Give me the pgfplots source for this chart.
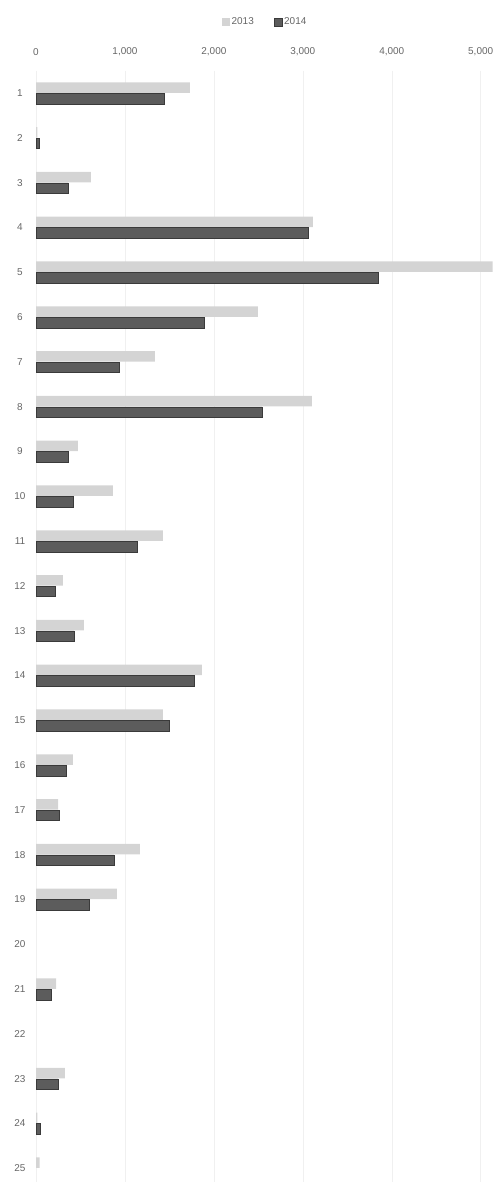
\documentclass[border=0pt]{standalone}
\usepackage{pgfplots}
\usepackage{pgfplotstable}
\pgfplotsset{compat=1.18}
\usepackage{fontspec}
\setmainfont{Liberation Sans}
\definecolor{lightbar}{HTML}{D4D4D4}
\definecolor{darkbar}{HTML}{5C5C5C}
\definecolor{darkedge}{HTML}{3A3A3A}
\pgfplotstableread{
cat a b
1 1730 1438
2 15 40
3 618 360
4 3112 3056
5 5135 3843
6 2494 1888
7 1337 933
8 3101 2539
9 472 360
10 865 416
11 1427 1135
12 303 213
13 539 427
14 1865 1775
15 1427 1494
16 416 337
17 250 258
18 1169 876
19 910 596
20 nan nan
21 225 169
22 nan nan
23 326 247
24 15 50
25 40 nan
}\data
\begin{document}
\begin{tikzpicture}[x=1bp,y=1bp]
\path[use as bounding box] (0,0) rectangle (495,-1182);
\begin{axis}[
  at={(36bp,-70.6bp)}, anchor=north west,
  scale only axis, width=458bp, height=1111bp,
  xbar, bar width=10.5bp,
  xmin=0, xmax=5150, ymin=0.5, ymax=25.3, y dir=reverse,
  ytick={1,...,25},
  xtick={0,1000,2000,3000,4000,5000},
  axis line style={draw=none}, major tick length=0pt,
  xticklabel pos=upper,
  xmajorgrids, grid style={black!6},
  /pgf/number format/assume math mode=true,
  /pgf/number format/1000 sep={,},
  ticklabel style={font=\fontsize{10}{11}\selectfont, text=black!60},
  xticklabel style={anchor=center, yshift=18.6bp},
  yticklabel style={anchor=center, xshift=-16bp},
  unbounded coords=discard,
  legend image code/.code={\fill[#1] (0bp,-4bp) rectangle (8bp,4bp);},
  legend columns=2,
  legend style={at={(0.5,1)}, anchor=center, yshift=48.6bp, draw=none,
    font=\fontsize{10}{11}\selectfont, text=black!60,
    /tikz/every even column/.append style={column sep=18bp}},
]
\addplot[fill=lightbar, draw=none, bar shift=5.5bp] table[x=a, y=cat] {\data};
\addplot[fill=darkbar, draw=darkedge, bar shift=-5.5bp] table[x=b, y=cat] {\data};
\legend{2013, 2014}
\end{axis}
\end{tikzpicture}
\end{document}
